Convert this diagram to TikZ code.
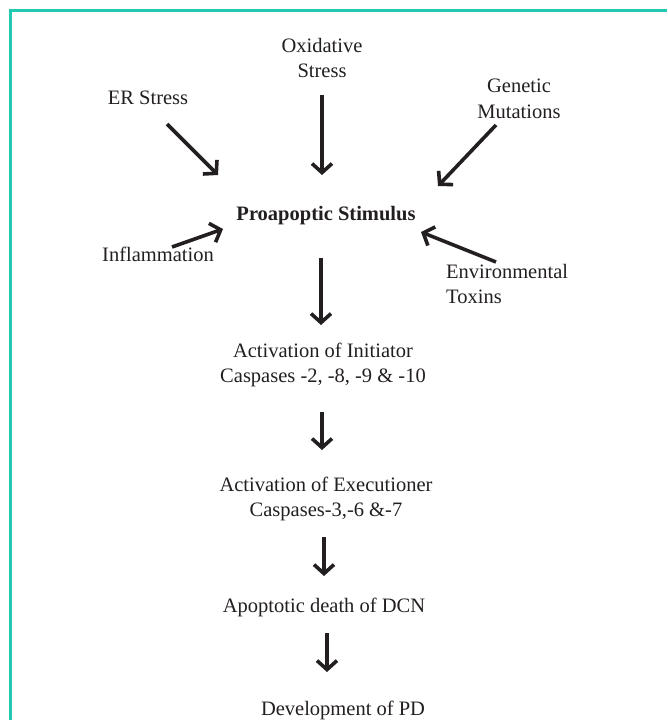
\documentclass[tikz,border=0pt]{standalone}
\usepackage{fontspec}
\setmainfont{Liberation Serif}
\usetikzlibrary{arrows.meta}
\definecolor{frameteal}{RGB}{32,201,176}
\definecolor{ink}{RGB}{35,31,32}

\begin{document}
\begin{tikzpicture}[x=1pt,y=-1pt,
    lbl/.style={inner sep=0pt, font=\fontsize{20.5}{25.5}\selectfont, align=center, text=ink},
    arr/.style={draw=ink, line width=3.6pt, -{Straight Barb[length=9pt,width=20pt]}}]
  \useasboundingbox (0,0) rectangle (667,720);

  % Draw the frame
  \draw[frameteal, line width=2.5pt] (667,10.5) -- (10.5,10.5) -- (10.5,720);

  % Draw the causes
  \node[lbl] (ox) at (322,58) {Oxidative\\Stress};
  \node[lbl] (er) at (148,98) {ER Stress};
  \node[lbl] (gen) at (519,99) {Genetic\\Mutations};
  \node[lbl] (pro) at (326,216) {\textbf{Proapoptic Stimulus}};
  \node[lbl] (infl) at (158,254) {Inflammation};
  \node[lbl, anchor=west, align=left] (env) at (446,284) {Environmental\\Toxins};

  % Draw the cascade
  \node[lbl] (init) at (323,365) {Activation of Initiator\\Caspases -2, -8, -9 \& -10};
  \node[lbl] (exec) at (326,499) {Activation of Executioner\\Caspases-3,-6 \&-7};
  \node[lbl] (apo) at (324,607) {Apoptotic death of DCN};
  \node[lbl] (dev) at (343,710) {Development of PD};

  % Draw the arrows
  \draw[arr] ([shift={(0,37)}]ox.center) -- ([shift={(-4,-41)}]pro.center);
  \draw[arr] ([shift={(19,26)}]er.center) -- ([shift={(-108,-41)}]pro.center);
  \draw[arr] ([shift={(-23,26)}]gen.center) -- ([shift={(112,-30)}]pro.center);
  \draw[arr] ([shift={(14,-7)}]infl.center) -- ([shift={(-103,13)}]pro.center);
  \draw[arr] ([shift={(50,-22)}]env.west) -- ([shift={(95,16)}]pro.center);
  \draw[arr] ([shift={(-5,42)}]pro.center) -- ([shift={(-2,-40)}]init.center);
  \draw[arr] ([shift={(-1,47)}]init.center) -- ([shift={(-4,-49)}]exec.center);
  \draw[arr] ([shift={(-2,38)}]exec.center) -- ([shift={(0,-31)}]apo.center);
  \draw[arr] ([shift={(3,26)}]apo.center) -- ([shift={(-16,-38)}]dev.center);
\end{tikzpicture}
\end{document}
